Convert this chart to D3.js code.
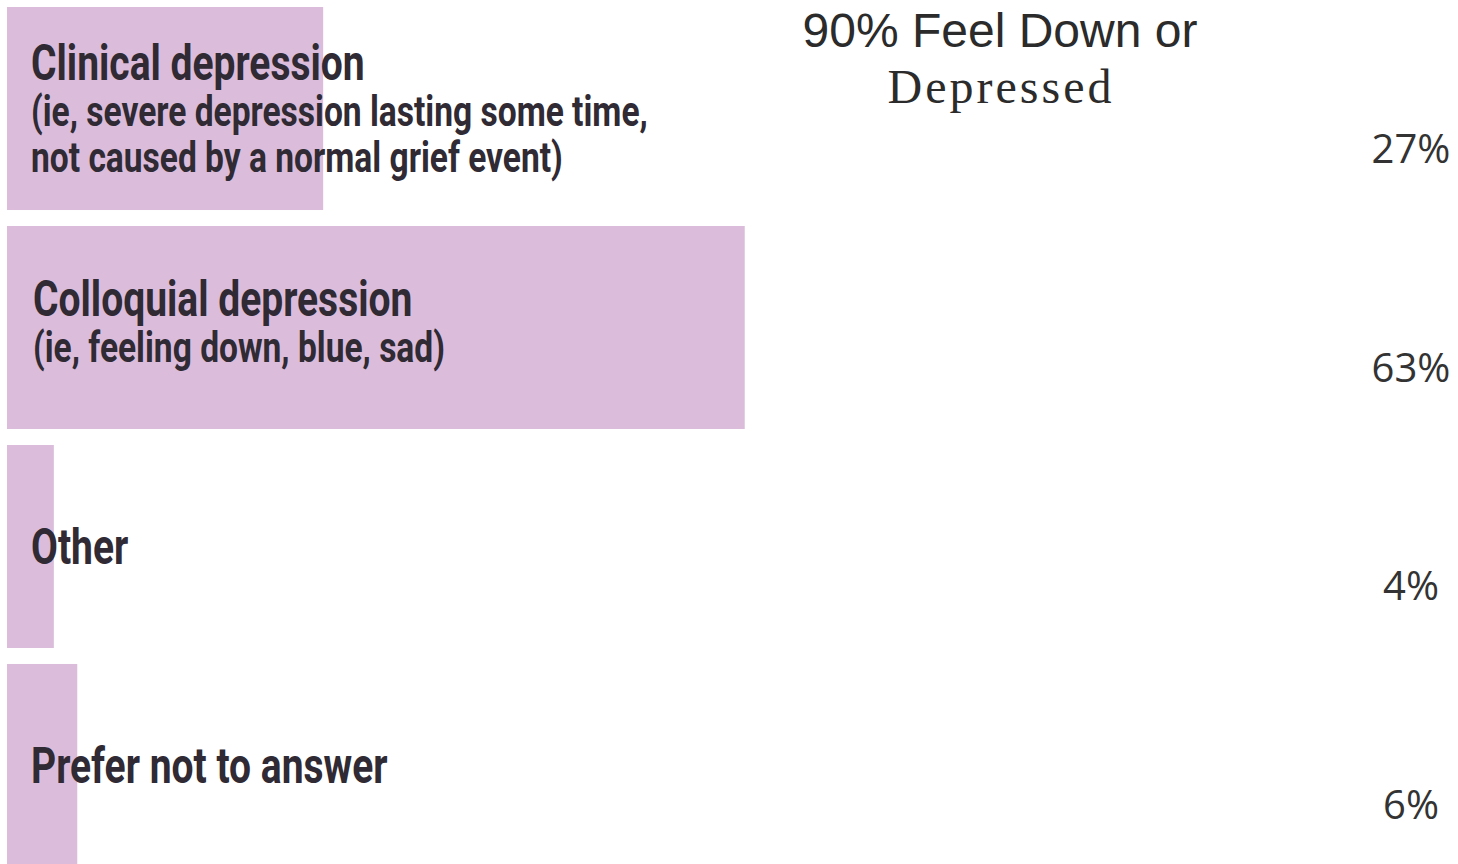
<!DOCTYPE html>
<html><head><meta charset="utf-8">
<script src="https://cdn.jsdelivr.net/npm/d3@7"></script>
<style>html,body{margin:0;padding:0;background:#fff;overflow:hidden}</style>
</head><body><svg id="c" width="1458" height="864"></svg>
<script>
const categories = ["Clinical depression", "Colloquial depression", "Other", "Prefer not to answer"];
const subLabels = [
  ["(ie, severe depression lasting some time,", "not caused by a normal grief event)"],
  ["(ie, feeling down, blue, sad)"],
  [],
  []
];
const values = [27, 63, 4, 6];
const valueLabels = ["27%", "63%", "4%", "6%"];
const titleLines = ["90% Feel Down or", "Depressed"];

const svg = d3.select("#c");
const x = d3.scaleLinear().domain([0, 100]).range([7, 1178]);
const y = d3.scaleBand().domain(categories).range([7, 867]).paddingInner(0.073).paddingOuter(0);

const data = categories.map((c, i) => ({c, v: values[i], sub: subLabels[i], lab: valueLabels[i]}));

svg.selectAll("rect.bar").data(data).join("rect")
  .attr("class", "bar")
  .attr("x", x(0))
  .attr("y", d => y(d.c))
  .attr("width", d => x(d.v) - x(0))
  .attr("height", y.bandwidth())
  .attr("fill", "#dbbddb");

const lineH = 46.5, capH = 35, sx = 0.78;
const g = svg.selectAll("g.lab").data(data).join("g").attr("class", "lab")
  .attr("transform", d => {
    const n = 1 + d.sub.length;
    const cy = y(d.c) + y.bandwidth() / 2;
    const first = cy - (n - 1) * lineH / 2 + capH / 2 + (d.sub.length === 1 ? -6 : 0);
    return `translate(${d.sub.length === 1 ? 33 : 31},${first}) scale(${sx},1)`;
  });
g.each(function(d) {
  const t = d3.select(this).append("text")
    .attr("font-family", "Roboto, sans-serif")
    .attr("font-weight", 700)
    .attr("fill", "#2f2a33");
  t.append("tspan").attr("x", 0).attr("y", 0).attr("font-size", 50).text(d.c);
  d.sub.forEach((s, i) => {
    t.append("tspan").attr("x", 0).attr("y", (i + 1) * lineH).attr("font-size", 43).text(s);
  });
});

svg.selectAll("text.val").data(data).join("text")
  .attr("class", "val")
  .attr("x", 1411)
  .attr("y", d => y(d.c) + y.bandwidth() / 2 + 54)
  .attr("text-anchor", "middle")
  .attr("font-family", "'Open Sans', sans-serif")
  .attr("font-size", 40)
  .attr("font-weight", 500)
  .attr("fill", "#333")
  .text(d => d.lab);

svg.append("text").attr("x", 1000).attr("y", 47).attr("text-anchor", "middle")
  .attr("font-family", "'Liberation Sans', Arial, sans-serif").attr("font-size", 48)
  .attr("fill", "#2b2b2b").text(titleLines[0]);
svg.append("text").attr("x", 1001).attr("y", 103).attr("text-anchor", "middle")
  .attr("font-family", "'Liberation Serif', 'Times New Roman', serif").attr("font-size", 48)
  .attr("letter-spacing", 3)
  .attr("fill", "#2b2b2b").text(titleLines[1]);
</script></body></html>
